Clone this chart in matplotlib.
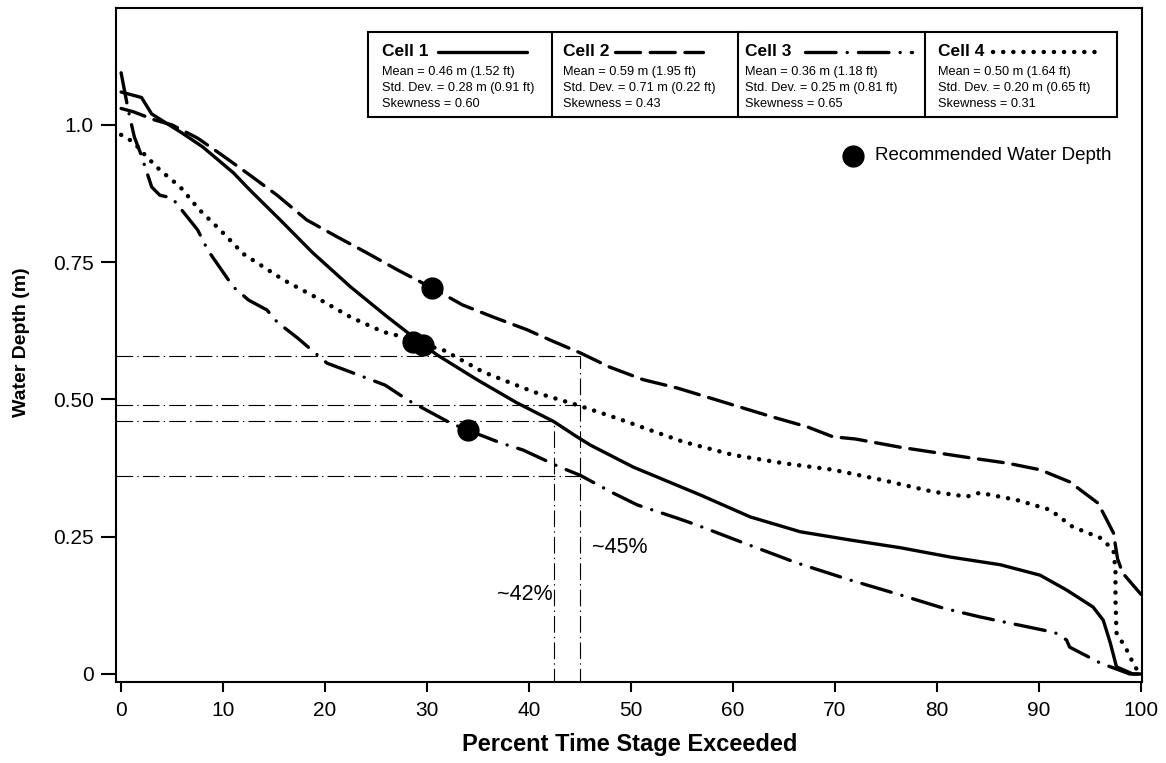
import matplotlib
matplotlib.use("Agg")
import matplotlib.pyplot as plt
from matplotlib.lines import Line2D
from matplotlib.patches import Rectangle

plt.rcParams['font.family'] = ['Liberation Sans', 'DejaVu Sans']
plt.rcParams['lines.scale_dashes'] = False

# 数据
cell1_x = [0, 2, 3, 6, 8, 11, 12.6, 15.6, 18.8, 22.5, 26, 29.6, 31, 34.9, 38.8, 42.4, 44.7, 46,
           50.2, 56.8, 61.7, 66.6, 71.5, 76.4, 81.3, 86.2, 90.1, 92.7, 95.3, 96.3, 97, 97.6, 99.2, 100]
cell1_y = [1.06, 1.05, 1.02, 0.985, 0.96, 0.913, 0.882, 0.827, 0.767, 0.705, 0.652, 0.60, 0.581, 0.536,
           0.494, 0.46, 0.432, 0.417, 0.377, 0.326, 0.286, 0.259, 0.244, 0.23, 0.213, 0.199, 0.18,
           0.153, 0.122, 0.098, 0.056, 0.013, 0.0, 0.0]

cell2_x = [0, 1.2, 3.3, 5, 7.5, 9.9, 12.6, 15.3, 18.2, 21.2, 24.1, 27.1, 30.5, 33.5, 36.5, 39.8, 42.1,
           45, 47.9, 51.2, 54.5, 57.7, 60.7, 63.9, 67.3, 69.8, 72, 76.4, 80.3, 83.5, 86.9, 90.1, 93,
           95.8, 97.3, 97.7, 98.2, 100]
cell2_y = [1.03, 1.024, 1.009, 1.0, 0.976, 0.945, 0.909, 0.872, 0.827, 0.796, 0.767, 0.736, 0.703,
           0.672, 0.65, 0.627, 0.608, 0.585, 0.559, 0.536, 0.521, 0.503, 0.486, 0.468, 0.45, 0.432,
           0.428, 0.413, 0.402, 0.393, 0.384, 0.372, 0.35, 0.311, 0.257, 0.21, 0.184, 0.145]

cell3_x = [0, 0.7, 1.3, 1.9, 3.0, 3.8, 5.0, 7.5, 8.5, 11, 12.5, 14.3, 15.3, 17.3, 20.2, 22.5, 25.9,
           28.1, 32.3, 34, 37.2, 39.4, 43, 45, 48.2, 50.6, 54.5, 56.5, 61, 66.3, 71.5, 76.4, 80.6,
           84.2, 86.5, 90.4, 91.6, 92.7, 93, 96, 98.9, 100]
cell3_y = [1.095, 1.027, 0.978, 0.949, 0.887, 0.872, 0.867, 0.809, 0.772, 0.705, 0.681, 0.663, 0.641,
           0.612, 0.566, 0.55, 0.526, 0.499, 0.457, 0.444, 0.421, 0.408, 0.377, 0.362, 0.33, 0.308,
           0.284, 0.271, 0.239, 0.202, 0.171, 0.144, 0.12, 0.104, 0.095, 0.08, 0.075, 0.062, 0.049,
           0.02, 0.0, 0.0]

cell4_x = [0, 1.2, 2.5, 3.8, 5.8, 7.7, 9.7, 12, 15.9, 19.2, 22.5, 25.7, 27, 28.6, 31.6, 35.5, 40.4,
           44.7, 48.6, 51.9, 55.1, 60, 64.9, 69.8, 74.7, 79.6, 82.9, 84.2, 87.8, 91.1, 93.3, 96, 97.3,
           97.5, 97.5, 97.6, 98.6, 99.4, 100]
cell4_y = [0.982, 0.969, 0.942, 0.918, 0.887, 0.845, 0.809, 0.765, 0.718, 0.685, 0.65, 0.623, 0.617,
           0.605, 0.59, 0.55, 0.514, 0.49, 0.466, 0.444, 0.423, 0.399, 0.384, 0.372, 0.353, 0.332,
           0.323, 0.33, 0.317, 0.299, 0.268, 0.248, 0.226, 0.189, 0.135, 0.075, 0.044, 0.013, 0.0]

# 推荐水深点
rec_x = [28.6, 29.6, 30.5, 34.0]
rec_y = [0.605, 0.599, 0.703, 0.444]

# 辅助线
guide_h_y = [0.58, 0.49, 0.46, 0.36]
guide_h_xend = [45, 45, 42.4, 45]
guide_v_x = [42.4, 45]
guide_v_ytop = [0.46, 0.58]

cell_names = ['Cell 1', 'Cell 2', 'Cell 3', 'Cell 4']
cell_stats = [
    ['Mean = 0.46 m (1.52 ft)', 'Std. Dev. = 0.28 m (0.91 ft)', 'Skewness = 0.60'],
    ['Mean = 0.59 m (1.95 ft)', 'Std. Dev. = 0.71 m (0.22 ft)', 'Skewness = 0.43'],
    ['Mean = 0.36 m (1.18 ft)', 'Std. Dev. = 0.25 m (0.81 ft)', 'Skewness = 0.65'],
    ['Mean = 0.50 m (1.64 ft)', 'Std. Dev. = 0.20 m (0.65 ft)', 'Skewness = 0.31'],
]

styles = [
    dict(linestyle='-', lw=2.4, solid_capstyle='round'),
    dict(linestyle=(0, (18, 7)), lw=2.4, dash_capstyle='round'),
    dict(linestyle=(0, (22, 8, 0.1, 8)), lw=2.4, dash_capstyle='round'),
    dict(linestyle=(0, (0.1, 7.2)), lw=3.2, dash_capstyle='round'),
]

W, H = 1166, 763


def fxy(px, py):
    return px / W, 1 - py / H


fig = plt.figure(figsize=(W / 100, H / 100), dpi=100)
ax = fig.add_axes([116 / W, 1 - 682 / H, 1026 / W, 674 / H])

xs = [cell1_x, cell2_x, cell3_x, cell4_x]
ys = [cell1_y, cell2_y, cell3_y, cell4_y]
for x, y, st in zip(xs, ys, styles):
    ax.plot(x, y, color='black', **st)

guide = dict(color='black', lw=0.8, linestyle=(0, (12, 3, 1, 3)))
for yy, xe in zip(guide_h_y, guide_h_xend):
    ax.plot([-0.5, xe], [yy, yy], **guide)
for xx, yt in zip(guide_v_x, guide_v_ytop):
    ax.plot([xx, xx], [-0.02, yt], **guide)

ax.plot(rec_x, rec_y, 'o', color='black', ms=15, zorder=5)

ax.text(46.2, 0.231, '~45%', fontsize=15.5, ha='left', va='center')
ax.text(42.3, 0.144, '~42%', fontsize=15.5, ha='right', va='center')

ax.set_xlim(-0.5, 100.1)
ax.set_ylim(-0.0146, 1.213)
ax.set_xticks(range(0, 101, 10))
ax.set_yticks([0, 0.25, 0.5, 0.75, 1.0])
ax.set_yticklabels(['0', '0.25', '0.50', '0.75', '1.0'])
ax.tick_params(axis='y', direction='out', length=11, width=1.5, pad=5, labelsize=15)
ax.tick_params(axis='x', direction='out', length=7, width=1.5, pad=7, labelsize=15)
for s in ax.spines.values():
    s.set_linewidth(1.5)

fig.text(*fxy(22, 342), 'Water Depth (m)', rotation=90, ha='center', va='center',
         fontsize=14, fontweight='bold')
fig.text(*fxy(630, 745), 'Percent Time Stage Exceeded', ha='center', va='center',
         fontsize=17, fontweight='bold')

# 图例框
bx0, by0 = fxy(368, 117)
bx1, by1 = fxy(1117, 32)
fig.add_artist(Rectangle((bx0, by0), bx1 - bx0, by1 - by0, transform=fig.transFigure,
                         facecolor='white', edgecolor='black', lw=1.5, zorder=10))
panel_left = [368, 552, 738, 925]
text_left = [382, 563, 745, 938]
sample_span = [(438, 527), (615, 703), (805, 912), (993, 1097)]
for i in range(4):
    if i > 0:
        fig.add_artist(Line2D([panel_left[i] / W] * 2, [by0, by1], transform=fig.transFigure,
                              color='black', lw=1.5, zorder=11))
    fig.text(*fxy(text_left[i], 52), cell_names[i], fontsize=12.5, fontweight='bold',
             ha='left', va='center', zorder=12)
    a, b = sample_span[i]
    fig.add_artist(Line2D([a / W, b / W], [1 - 52 / H] * 2, transform=fig.transFigure,
                          color='black', zorder=12, **styles[i]))
    for j, line in enumerate(cell_stats[i]):
        fig.text(*fxy(text_left[i], 72 + 16 * j), line, fontsize=9.2,
                 ha='left', va='center', zorder=12)

fig.add_artist(Line2D([853 / W], [1 - 156 / H], marker='o', ms=15, color='black',
                      transform=fig.transFigure))
fig.text(*fxy(875, 156), 'Recommended Water Depth', fontsize=13.5, ha='left', va='center')

fig.savefig('out.png', dpi=100)
